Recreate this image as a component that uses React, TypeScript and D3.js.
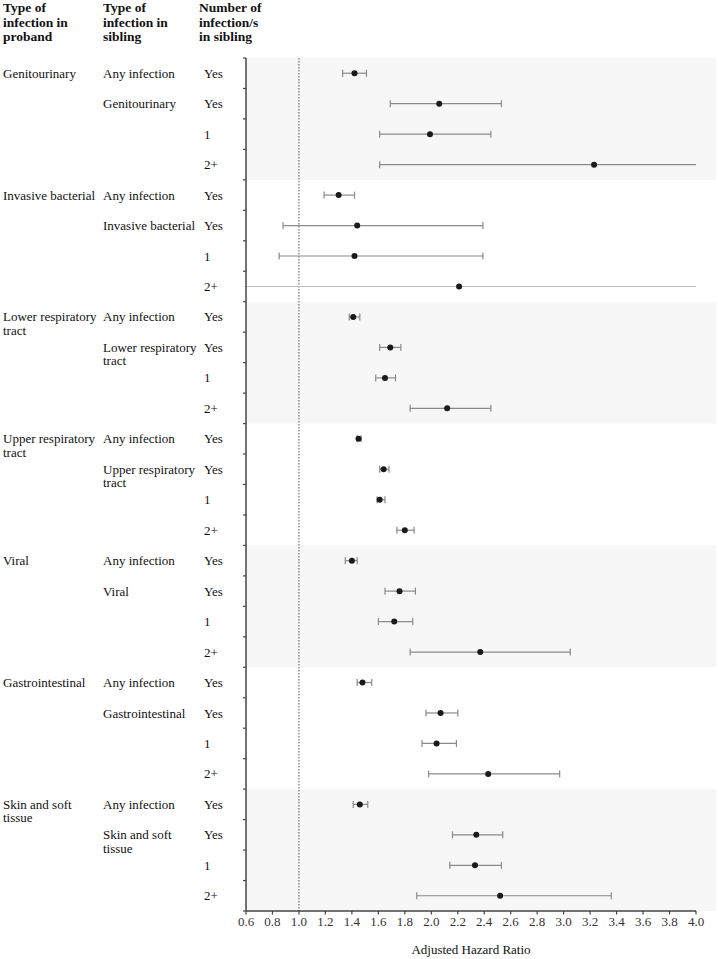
import React from "react";
import * as d3 from "d3";

const probandTypes = [
  "Genitourinary",
  "Invasive bacterial",
  "Lower respiratory tract",
  "Upper respiratory tract",
  "Viral",
  "Gastrointestinal",
  "Skin and soft tissue",
];
const siblingTypes = ["Any infection", "", "", ""];
const countLabels = ["Yes", "Yes", "1", "2+"];
const headers = [
  ["Type of", "infection in", "proband"],
  ["Type of", "infection in", "sibling"],
  ["Number of", "infection/s", "in sibling"],
];
// hazard ratios, 4 rows per proband group (any, same type, 1, 2+)
const hr = [
  1.42, 2.06, 1.99, 3.23,
  1.30, 1.44, 1.42, 2.21,
  1.41, 1.69, 1.65, 2.12,
  1.45, 1.64, 1.61, 1.80,
  1.40, 1.76, 1.72, 2.37,
  1.48, 2.07, 2.04, 2.43,
  1.46, 2.34, 2.33, 2.52,
];
const lower = [
  1.33, 1.69, 1.61, 1.61,
  1.19, 0.88, 0.85, 0.55,
  1.38, 1.61, 1.58, 1.84,
  1.44, 1.61, 1.59, 1.74,
  1.35, 1.65, 1.60, 1.84,
  1.44, 1.96, 1.93, 1.98,
  1.41, 2.16, 2.14, 1.89,
];
const upper = [
  1.51, 2.53, 2.45, 4.3,
  1.42, 2.39, 2.39, 4.5,
  1.46, 1.77, 1.73, 2.45,
  1.47, 1.68, 1.65, 1.87,
  1.44, 1.88, 1.86, 3.05,
  1.55, 2.20, 2.19, 2.97,
  1.52, 2.54, 2.53, 3.36,
];
const xTicks = [0.6, 0.8, 1.0, 1.2, 1.4, 1.6, 1.8, 2.0, 2.2, 2.4, 2.6, 2.8, 3.0, 3.2, 3.4, 3.6, 3.8, 4.0];
const xTitle = "Adjusted Hazard Ratio";

function wrap(s: string, max = 18): string[] {
  const words = s.split(" ");
  const lines: string[] = [];
  let cur = "";
  for (const w of words) {
    const t = cur ? cur + " " + w : w;
    if (t.length > max && cur) {
      lines.push(cur);
      cur = w;
    } else cur = t;
  }
  if (cur) lines.push(cur);
  return lines;
}

export default function App() {
  const W = 718, H = 959;
  const left = 246, right = 696, top = 58, bottom = 911;
  const n = hr.length;
  const x = d3.scaleLinear().domain([0.6, 4.0]).range([left, right]);
  const y = d3.scaleBand<number>().domain(d3.range(n)).range([top, bottom]).padding(0);
  const bw = y.bandwidth();
  const cy = (i: number) => (y(i) as number) + bw / 2;
  const font = "'Liberation Serif', 'Times New Roman', serif";
  const groups = probandTypes.length;
  const col = [3, 103, 204];

  return (
    <div style={{ position: "absolute", left: 0, top: 0 }}>
      <svg width={W} height={H} style={{ display: "block", fontFamily: font }}>
        <rect x={0} y={0} width={W} height={H} fill="#fff" />
        {d3.range(groups).map((g) =>
          g % 2 === 0 ? (
            <rect key={"s" + g} x={left} y={y(g * 4) as number} width={716 - left} height={bw * 4} fill="#f7f7f7" />
          ) : null
        )}
        {/* header */}
        {headers.map((h, ci) =>
          h.map((line, li) => (
            <text key={"h" + ci + li} x={[3, 103, 199][ci]} y={12 + li * 14.5} fontSize={13.5} fontWeight="bold" fill="#111">
              {line}
            </text>
          ))
        )}
        {/* reference line */}
        <line x1={x(1)} x2={x(1)} y1={top} y2={bottom} stroke="#555" strokeWidth={1} strokeDasharray="1.5,1.5" />
        {/* row labels */}
        {d3.range(groups).map((g) => {
          const r0 = g * 4;
          const pl = wrap(probandTypes[g]);
          const sl = wrap(probandTypes[g]);
          return (
            <g key={"l" + g} fontSize={13} fill="#111">
              {pl.map((t, k) => (
                <text key={"p" + k} x={col[0]} y={cy(r0) + k * 13.5} dy="0.35em">{t}</text>
              ))}
              <text x={col[1]} y={cy(r0)} dy="0.35em">{siblingTypes[0]}</text>
              {sl.map((t, k) => (
                <text key={"q" + k} x={col[1]} y={cy(r0 + 1) + k * 13.5} dy="0.35em">{t}</text>
              ))}
              {countLabels.map((c, k) => (
                <text key={"c" + k} x={col[2]} y={cy(r0 + k)} dy="0.35em">{c}</text>
              ))}
            </g>
          );
        })}
        {/* CIs and points */}
        {hr.map((v, i) => {
          const lo = Math.max(lower[i], 0.6);
          const hi = Math.min(upper[i], 4.0);
          const yy = cy(i);
          const loCap = lower[i] >= 0.6;
          const hiCap = upper[i] <= 4.0;
          const faint = !loCap && !hiCap;
          const stroke = faint ? "#bdbdbd" : "#8a8a8a";
          return (
            <g key={"ci" + i}>
              <line x1={x(lo)} x2={x(hi)} y1={yy} y2={yy} stroke={stroke} strokeWidth={1.2} />
              {loCap && <line x1={x(lo)} x2={x(lo)} y1={yy - 3.5} y2={yy + 3.5} stroke={stroke} strokeWidth={1.2} />}
              {hiCap && <line x1={x(hi)} x2={x(hi)} y1={yy - 3.5} y2={yy + 3.5} stroke={stroke} strokeWidth={1.2} />}
              <circle cx={x(v)} cy={yy} r={3} fill="#1a1a1a" />
            </g>
          );
        })}
        {/* left axis */}
        <line x1={left} x2={left} y1={top} y2={bottom} stroke="#444" strokeWidth={1.5} />
        {d3.range(n + 1).map((i) => {
          const yy = top + i * bw;
          return <line key={"yt" + i} x1={left - 3} x2={left} y1={yy} y2={yy} stroke="#444" strokeWidth={1.2} />;
        })}
        {/* bottom axis */}
        <line x1={left} x2={right} y1={bottom} y2={bottom} stroke="#444" strokeWidth={1.5} />
        {xTicks.map((t) => (
          <g key={"xt" + t}>
            <line x1={x(t)} x2={x(t)} y1={bottom} y2={bottom + 3.5} stroke="#444" strokeWidth={1.2} />
            <text x={x(t)} y={bottom + 14.5} textAnchor="middle" fontSize={13} fill="#333">
              {t.toFixed(1)}
            </text>
          </g>
        ))}
        <text x={(left + right) / 2} y={954} textAnchor="middle" fontSize={13} fill="#111">
          {xTitle}
        </text>
      </svg>
    </div>
  );
}
